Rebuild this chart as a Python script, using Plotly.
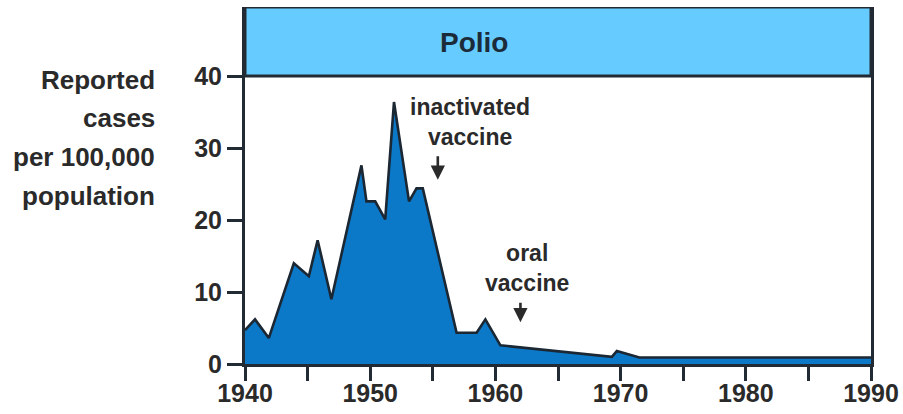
import plotly.graph_objects as go

years = [1940, 1940.8, 1941.9, 1943.9, 1945.1, 1945.8, 1946.9, 1949.3, 1949.7, 1950.4,
         1951.2, 1951.9, 1953.1, 1953.7, 1954.2, 1956.9, 1958.5, 1959.2, 1960.4,
         1969.3, 1969.7, 1971.5, 1990]
cases = [4.7, 6.2, 3.6, 14.0, 12.2, 17.2, 9.0, 27.6, 22.6, 22.6,
         20.1, 36.4, 22.6, 24.4, 24.4, 4.35, 4.35, 6.2, 2.6,
         1.0, 1.8, 0.9, 0.9]

x_ticks = [1940, 1950, 1960, 1970, 1980, 1990]
x_minor = [1945, 1955, 1965, 1975, 1985]
y_ticks = [0, 10, 20, 30, 40]

title_text = "Polio"
ylabel_lines = ["Reported", "cases", "per 100,000", "population"]
ann1 = "inactivated<br>vaccine"
ann2 = "oral<br>vaccine"

FONT = "Liberation Sans Narrow, Arial Narrow, Liberation Sans, Arial, sans-serif"
DARK = "#222a33"
TEXT = "#2a2a2a"
TOP = 49.6
PLOT_L, PLOT_R, PLOT_T, PLOT_B = 245, 871, 7, 364

fig = go.Figure()
fig.add_trace(go.Scatter(
    x=years, y=cases, mode="lines", fill="tozeroy",
    fillcolor="#0c78c8", line=dict(color="#1b2733", width=2.6),
    hoverinfo="skip", showlegend=False))

# header band
fig.add_shape(type="rect", xref="x", yref="y", x0=1940, x1=1990, y0=40, y1=TOP,
              fillcolor="#66ccff", line=dict(color=DARK, width=3), layer="above")
fig.add_annotation(x=1958.3, y=44.7, xref="x", yref="y", text="<b>" + title_text + "</b>",
                   showarrow=False, font=dict(family=FONT, size=28, color="#1c2b3a"))

# y label, one line per annotation
label_px_y = [80, 118, 157, 196]
for txt, py in zip(ylabel_lines, label_px_y):
    fig.add_annotation(xref="paper", yref="paper",
                       x=(157 - PLOT_L) / (PLOT_R - PLOT_L),
                       y=(PLOT_B - py) / (PLOT_B - PLOT_T),
                       xanchor="right", yanchor="middle",
                       text="<b>" + txt + "</b>", showarrow=False,
                       font=dict(family=FONT, size=26, color=TEXT))

# vaccine annotations
fig.add_annotation(x=1958.0, y=33.6, xref="x", yref="y", text="<b>" + ann1 + "</b>",
                   showarrow=False, font=dict(family=FONT, size=23, color=TEXT))
fig.add_annotation(x=1955.4, y=25.6, ax=0, ay=-25, xref="x", yref="y", text="",
                   showarrow=True, arrowhead=2, arrowsize=1.1, arrowwidth=2.6, arrowcolor=TEXT)
fig.add_annotation(x=1962.5, y=13.3, xref="x", yref="y", text="<b>" + ann2 + "</b>",
                   showarrow=False, font=dict(family=FONT, size=23, color=TEXT))
fig.add_annotation(x=1962.0, y=5.8, ax=0, ay=-21, xref="x", yref="y", text="",
                   showarrow=True, arrowhead=2, arrowsize=1.1, arrowwidth=2.6, arrowcolor=TEXT)

fig.update_layout(
    width=903, height=414,
    margin=dict(l=PLOT_L, r=903 - PLOT_R, t=PLOT_T, b=414 - PLOT_B, autoexpand=False),
    paper_bgcolor="white", plot_bgcolor="white",
    font=dict(family=FONT, color=TEXT),
    xaxis=dict(range=[1940, 1990], tickvals=x_ticks, ticktext=[f"<b>{v}</b>" for v in x_ticks],
               ticks="outside", ticklen=14, tickwidth=2.6, tickcolor=DARK, automargin=False,
               ticklabelstandoff=-9,
               minor=dict(tickvals=x_minor, ticks="outside", ticklen=14, tickwidth=2.6, tickcolor=DARK),
               showline=True, linecolor=DARK, linewidth=3, mirror=False,
               showgrid=False, zeroline=False, tickfont=dict(size=25, family=FONT, color=TEXT)),
    yaxis=dict(range=[0, TOP], tickvals=y_ticks, ticktext=[f"<b>{v}</b>" for v in y_ticks],
               ticks="outside", ticklen=15, tickwidth=2.6, tickcolor=DARK, automargin=False,
               showline=True, linecolor=DARK, linewidth=3, mirror=True,
               showgrid=False, zeroline=False, tickfont=dict(size=25, family=FONT, color=TEXT)),
)

page_fix = ("document.body.style.margin='0';"
            "document.body.style.overflow='hidden';"
            "document.documentElement.style.overflow='hidden';")
fig.write_html("out.html", post_script=page_fix, config={"displayModeBar": False})
